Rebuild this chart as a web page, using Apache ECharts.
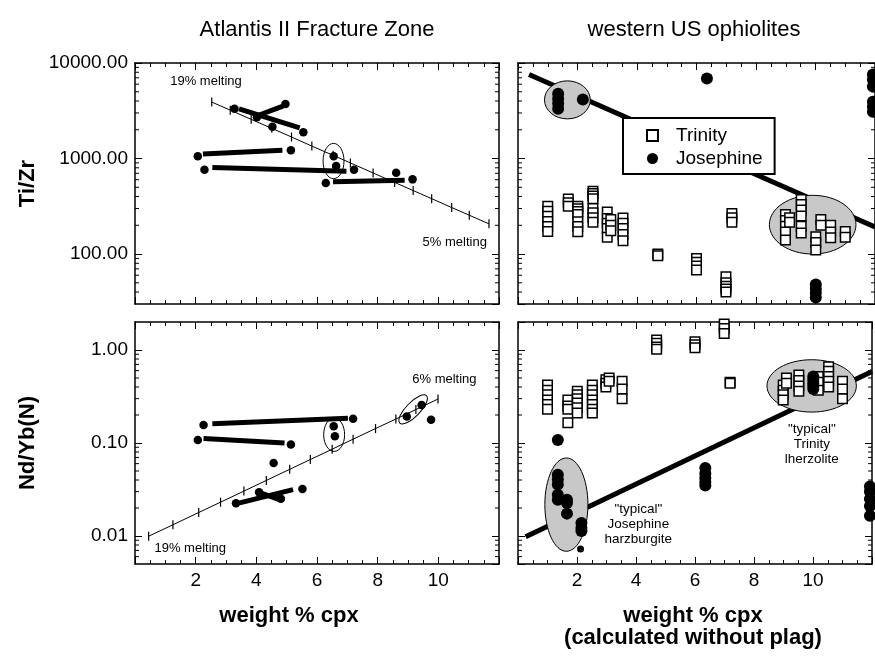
<!DOCTYPE html>
<html><head><meta charset="utf-8">
<script src="https://cdn.jsdelivr.net/npm/echarts@6/dist/echarts.min.js"></script>
<style>html,body{margin:0;padding:0;background:#fff}#chart{width:875px;height:656px}</style>
</head><body><div id="chart"></div>
<script>
const FONT = "'Liberation Sans', Arial, Helvetica, sans-serif";

// ---------- Atlantis II Fracture Zone : Ti/Zr ----------
const atlTiZrPoints = [[3.28,3317],[4.96,3717],[4.02,2710],[4.53,2157],[5.55,1882],[2.07,1057],[5.14,1224],[2.29,765],[6.55,1057],[6.63,835],[7.22,765],[6.29,553],[8.61,711],[9.15,605]];
const atlTiZrTielines = [[[3.43,3317],[5.43,2089]],[[4.05,2820],[4.88,3540]],[[2.24,1118],[4.86,1224]],[[2.55,804],[6.97,734]],[[6.53,571],[8.89,594]]];
const atlTiZrMeltX = [2.53,3.14,3.83,4.51,5.16,5.83,6.53,7.10,7.85,8.56,9.17,9.78,10.44,11.02,11.67];
const atlTiZrMeltY = [3900,3210,2570,2070,1680,1350,1080,900,706,562,462,380,307,255,207];
const atlTiZrEllipses = [[6.20,615,6.89,1440]];
const atlTiZrLabels = ['19% melting','5% melting'];
const atlTiZrLabelPos = [[2.34,6350],[10.54,132]];

// ---------- Atlantis II Fracture Zone : Nd/Yb(N) ----------
const atlNdYbPoints = [[2.26,0.156],[2.07,0.108],[5.14,0.0966],[7.19,0.182],[6.55,0.151],[6.59,0.118],[4.57,0.061],[4.09,0.0295],[5.52,0.032],[3.33,0.0225],[4.81,0.0252],[8.96,0.193],[9.45,0.256],[9.76,0.178]];
const atlNdYbTielines = [[[2.55,0.161],[7.02,0.185]],[[2.26,0.112],[4.93,0.100]],[[3.45,0.0227],[5.21,0.0315]],[[4.09,0.0295],[4.83,0.0242]]];
const atlNdYbMeltX = [0.45,1.25,2.10,2.82,3.59,4.33,5.10,5.78,6.50,7.19,7.93,8.60,9.26,9.99];
const atlNdYbMeltY = [0.00995,0.0132,0.0179,0.0231,0.0304,0.0396,0.0521,0.0664,0.0857,0.110,0.143,0.181,0.229,0.297];
const atlNdYbEllipses = [[6.22,0.0812,6.91,0.186]];
const atlNdYbTiltedEllipses = [[8.73,0.164,9.61,0.322]];
const atlNdYbLabels = ['6% melting','19% melting'];
const atlNdYbLabelPos = [[10.2,0.479],[1.82,0.0074]];

// ---------- western US ophiolites : Ti/Zr ----------
const trinityTiZrX = [1.00,1.69,2.01,2.52,3.00,3.12,3.53,4.70,6.00,6.99,7.19,8.99,9.13,9.52,10.01,10.18,10.51,11.00];
const trinityTiZrY = [
  [316,280,249,219,194,172],[378,345,316],[316,298,279,260,218,194,171],[455,430,405,380,300,270,240,215],
  [275,235,210,185,150],[230,200,175],[238,210,185,160,138],[100,96],[90,82,75,68],[58,50,46,43,40],
  [265,240,215],[259,225,195,170,140],[240,215],[372,330,290,250,195,166],[152,132,110],[230,200],[200,170,148],[172,150]
];
const josephineTiZrX = [1.35,2.18,6.35,10.01,11.93];
const josephineTiZrY = [[4770,4230,3760,3320],[4160],[6880],[48,43,39,35],[7580,6720,5660,3930,3480,3080]];
const ophTiZrTrend = [[[0.37,7580],[12,192]]];
const ophTiZrEllipses = [[0.89,2600,2.43,6500],[8.45,100,11.36,412]];

// ---------- western US ophiolites : Nd/Yb(N) ----------
const trinityNdYbX = [1.00,1.69,2.01,2.52,2.98,3.09,3.53,4.70,6.00,6.99,7.19,8.99,9.10,9.52,10.18,10.53,11.00];
const trinityNdYbY = [
  [0.42,0.37,0.33,0.29,0.26,0.23],[0.29,0.25,0.23,0.165],[0.36,0.33,0.30,0.27,0.24,0.21],[0.42,0.37,0.33,0.29,0.26,0.23,0.21],
  [0.48,0.44,0.40],[0.50,0.46],[0.46,0.38,0.30],[1.28,1.18,1.08,1.02],[1.23,1.14,1.06],[1.9,1.7,1.5],[0.45,0.44],
  [0.42,0.37,0.33,0.29],[0.50,0.44],[0.54,0.47,0.41,0.36],[0.52,0.45,0.37],[0.66,0.59,0.52,0.46,0.40],[0.46,0.38,0.30]
];
const josephineNdYbX = [1.35,1.66,2.15,6.35,10.01,11.93];
const josephineNdYbY = [[0.108,0.0457,0.0404,0.0357,0.0278,0.0246],[0.0246,0.0227,0.0174],[0.0138,0.0122,0.0113],[0.054,0.047,0.042,0.038,0.035],[0.52,0.48,0.44,0.41,0.38],[0.034,0.030,0.025,0.021,0.0165]];
const josephineNdYbSmall = [[2.12,0.00727]];
const ophNdYbTrend = [[[0.26,0.00979],[12,0.586]]];
const ophNdYbEllipses = [[0.91,0.00685,2.37,0.069],[8.44,0.215,11.47,0.786]];
const ophNdYbLabels = ['"typical"\nJosephine\nharzburgite','"typical"\nTrinity\nlherzolite'];
const ophNdYbLabelPos = [[4.08,0.0133],[9.96,0.0958]];

// ---------- axes ----------
const xTicks = {min:0, max:12, interval:2};
const tiZrRange = {min:30, max:10000};
const ndYbRange = {min:0.005, max:2};

function stacks(xs, ys){ const out=[]; xs.forEach((x,i)=>ys[i].forEach(y=>out.push([x,y]))); return out; }
function zip(xs, ys){ return xs.map((x,i)=>[x, ys[i]]); }
function logMinorValues(min, max){
  const out=[];
  for(let e=-4;e<=5;e++){ for(let k=2;k<=9;k++){ const v=+(k*Math.pow(10,e)).toPrecision(3); if(v>min*1.0001 && v<max*0.9999) out.push(v);} }
  return out;
}

const grids = [
  {left:135, top:63, width:364, height:241},
  {left:518, top:63, width:364, height:241},
  {left:135, top:322, width:364, height:242},
  {left:518, top:322, width:364, height:242}
];

const lineStyleAxis = {color:'#000', width:1.5};
function xAxes(g, showLabels, name, pad){
  const base = {type:'value', gridIndex:g, min:xTicks.min, max:xTicks.max, interval:xTicks.interval,
    axisLine:{show:true, onZero:false, lineStyle:lineStyleAxis},
    axisTick:{show:true, inside:true, length:7, lineStyle:{color:'#000', width:1}},
    minorTick:{show:true, splitNumber:4, length:4, lineStyle:{color:'#000', width:1}},
    splitLine:{show:false}, minorSplitLine:{show:false}};
  return [
    Object.assign({}, base, {position:'bottom',
      axisLabel:{show:showLabels, margin:7, fontSize:19, color:'#000', fontFamily:FONT,
        formatter:v=>(v===xTicks.min||v===xTicks.max)?'':String(v)},
      name:name||'', nameLocation:'middle', nameGap:41,
      nameTextStyle:{fontSize:22, fontWeight:'bold', color:'#000', fontFamily:FONT, lineHeight:22, padding:pad||0}}),
    Object.assign({}, base, {position:'top', axisLabel:{show:false}})
  ];
}
function yAxes(g, range, showLabels, name){
  const base = {type:'log', logBase:10, gridIndex:g, min:range.min, max:range.max,
    axisLine:{show:true, onZero:false, lineStyle:lineStyleAxis},
    axisTick:{show:true, inside:true, length:7, lineStyle:{color:'#000', width:1}},
    minorTick:{show:false}, splitLine:{show:false}, minorSplitLine:{show:false}};
  return [
    Object.assign({}, base, {position:'left',
      axisLabel:{show:showLabels, margin:7, fontSize:19, color:'#000', fontFamily:FONT,
        formatter:v=>Number(v).toFixed(2), showMinLabel:false, showMaxLabel:range.max===10000},
      name:name||'', nameLocation:'middle', nameGap:96, nameRotate:90,
      nameTextStyle:{fontSize:22, fontWeight:'bold', color:'#000', fontFamily:FONT}}),
    Object.assign({}, base, {position:'right', axisLabel:{show:false}})
  ];
}

const xAxis = [].concat(xAxes(0,false), xAxes(1,false), xAxes(2,true,'weight % cpx',[0,56,0,0]), xAxes(3,true,'weight % cpx\n(calculated without plag)',[0,4,0,0]));
const yAxis = [].concat(yAxes(0,tiZrRange,true,'Ti/Zr'), yAxes(1,tiZrRange,false), yAxes(2,ndYbRange,true,'Nd/Yb(N)'), yAxes(3,ndYbRange,false));

// ---------- series helpers ----------
const ax = g => ({xAxisIndex:2*g, yAxisIndex:2*g});
function ellipseSeries(g, data, fill){
  return Object.assign({type:'custom', name:'ellipse', silent:true, z:3, data:data, encode:{x:[0,2], y:[1,3]},
    renderItem:(p, api)=>{
      const a = api.coord([api.value(0), api.value(1)]), b = api.coord([api.value(2), api.value(3)]);
      return {type:'ellipse', shape:{cx:(a[0]+b[0])/2, cy:(a[1]+b[1])/2, rx:Math.abs(b[0]-a[0])/2, ry:Math.abs(b[1]-a[1])/2},
        style:{fill:fill, stroke:'#000', lineWidth:1}};
    }}, ax(g));
}
function tiltedEllipseSeries(g, data){
  return Object.assign({type:'custom', name:'ellipse2', silent:true, z:3, data:data, encode:{x:[0,2], y:[1,3]},
    renderItem:(p, api)=>{
      const a = api.coord([api.value(0), api.value(1)]), b = api.coord([api.value(2), api.value(3)]);
      const dx=b[0]-a[0], dy=b[1]-a[1];
      return {type:'ellipse', x:(a[0]+b[0])/2, y:(a[1]+b[1])/2, rotation:-Math.atan2(dy,dx),
        shape:{cx:0, cy:0, rx:Math.sqrt(dx*dx+dy*dy)/2, ry:7}, style:{fill:'none', stroke:'#000', lineWidth:1}};
    }}, ax(g));
}
function barSeries(g, segs, z){
  return Object.assign({type:'lines', name:'tie', coordinateSystem:'cartesian2d', silent:true, z:z,
    data:segs.map(s=>({coords:s})), lineStyle:{color:'#000', width:5, opacity:1, cap:'butt'}}, ax(g));
}
function meltSeries(g, xs, ys){
  return Object.assign({type:'line', name:'melting', silent:true, z:4, data:zip(xs, ys),
    lineStyle:{color:'#000', width:1}, symbol:'rect', symbolSize:[1.2,9], showSymbol:true, showAllSymbol:true,
    itemStyle:{color:'#000', opacity:1}}, ax(g));
}
function pointSeries(name, g, data, symbol, size, style, z){
  return Object.assign({type:'scatter', name:name, silent:true, z:z, data:data, symbol:symbol, symbolSize:size,
    itemStyle:style}, ax(g));
}
function labelSeries(g, texts, pos, fontSize, lineHeight){
  return Object.assign({type:'custom', name:'labels', silent:true, z:7, data:pos,
    renderItem:(p, api)=>{
      const c = api.coord([api.value(0), api.value(1)]);
      return {type:'text', x:c[0], y:c[1], style:{text:texts[p.dataIndex], fill:'#000',
        font:fontSize+'px '+FONT, fontSize:fontSize, fontFamily:FONT, lineHeight:lineHeight,
        align:'center', verticalAlign:'middle', textAlign:'center', textVerticalAlign:'middle'}};
    }}, ax(g));
}
function minorTickSeries(g, range){
  return Object.assign({type:'custom', name:'minorticks', silent:true, z:8,
    data:logMinorValues(range.min, range.max).map(v=>[xTicks.min, v]),
    renderItem:(p, api)=>{
      const v = api.value(1);
      const l = api.coord([xTicks.min, v]), r = api.coord([xTicks.max, v]);
      return {type:'group', children:[
        {type:'line', shape:{x1:l[0], y1:l[1], x2:l[0]+4, y2:l[1]}, style:{stroke:'#000', lineWidth:1}},
        {type:'line', shape:{x1:r[0]-4, y1:r[1], x2:r[0], y2:r[1]}, style:{stroke:'#000', lineWidth:1}}
      ]};
    }}, ax(g));
}

const blackDot = {color:'#000', opacity:1};
const openSquare = {color:'#fff', borderColor:'#000', borderWidth:1.5, opacity:1};
const GRAY = '#c8c8c8';

const series = [
  // Atlantis Ti/Zr
  ellipseSeries(0, atlTiZrEllipses, 'none'),
  meltSeries(0, atlTiZrMeltX, atlTiZrMeltY),
  barSeries(0, atlTiZrTielines, 5),
  pointSeries('Atlantis', 0, atlTiZrPoints, 'circle', 8.5, blackDot, 6),
  labelSeries(0, atlTiZrLabels, atlTiZrLabelPos, 13, 15),
  minorTickSeries(0, tiZrRange),
  // Ophiolites Ti/Zr
  barSeries(1, ophTiZrTrend, 2),
  ellipseSeries(1, ophTiZrEllipses, GRAY),
  pointSeries('Trinity', 1, stacks(trinityTiZrX, trinityTiZrY), 'rect', 9.5, openSquare, 5),
  pointSeries('Josephine', 1, stacks(josephineTiZrX, josephineTiZrY), 'circle', 12, blackDot, 6),
  minorTickSeries(1, tiZrRange),
  // Atlantis Nd/Yb
  ellipseSeries(2, atlNdYbEllipses, 'none'),
  tiltedEllipseSeries(2, atlNdYbTiltedEllipses),
  meltSeries(2, atlNdYbMeltX, atlNdYbMeltY),
  barSeries(2, atlNdYbTielines, 5),
  pointSeries('Atlantis', 2, atlNdYbPoints, 'circle', 8.5, blackDot, 6),
  labelSeries(2, atlNdYbLabels, atlNdYbLabelPos, 13, 15),
  minorTickSeries(2, ndYbRange),
  // Ophiolites Nd/Yb
  barSeries(3, ophNdYbTrend, 2),
  ellipseSeries(3, ophNdYbEllipses, GRAY),
  pointSeries('Trinity', 3, stacks(trinityNdYbX, trinityNdYbY), 'rect', 9.5, openSquare, 5),
  pointSeries('Josephine', 3, stacks(josephineNdYbX, josephineNdYbY), 'circle', 12, blackDot, 6),
  pointSeries('Josephine small', 3, josephineNdYbSmall, 'circle', 7, blackDot, 6),
  labelSeries(3, ophNdYbLabels, ophNdYbLabelPos, 13.5, 15),
  minorTickSeries(3, ndYbRange)
];

const chart = echarts.init(document.getElementById('chart'), null, {renderer:'canvas'});
chart.setOption({
  animation:false,
  backgroundColor:'#fff',
  title:[
    {text:'Atlantis II Fracture Zone', left:317, top:19, padding:0, textAlign:'center',
      textStyle:{fontSize:22, fontWeight:'normal', color:'#000', fontFamily:FONT}},
    {text:'western US ophiolites', left:694, top:19, padding:0, textAlign:'center',
      textStyle:{fontSize:22, fontWeight:'normal', color:'#000', fontFamily:FONT}}
  ],
  legend:{
    data:[{name:'Trinity', icon:'rect'},{name:'Josephine', icon:'circle'}],
    orient:'vertical', left:623, top:118, itemWidth:11, itemHeight:11, itemGap:4,
    padding:[8,12,6,23], borderColor:'#000', borderWidth:2, backgroundColor:'#fff', borderRadius:0,
    selectedMode:false, z:10,
    textStyle:{fontSize:19, color:'#000', fontFamily:FONT, padding:[0,0,0,13]}
  },
  grid:grids,
  xAxis:xAxis,
  yAxis:yAxis,
  series:series
});
</script></body></html>
